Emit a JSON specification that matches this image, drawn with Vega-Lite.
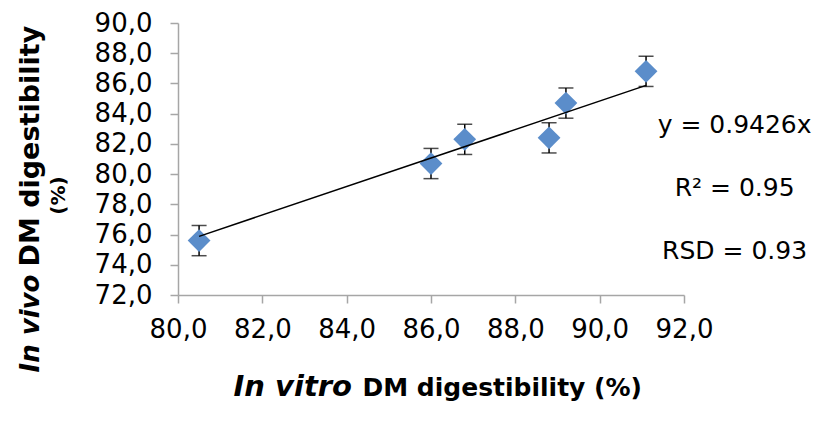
{
  "$schema": "https://vega.github.io/schema/vega-lite/v6.json",
  "width": 506,
  "height": 272,
  "autosize": "none",
  "padding": {"left": 178, "top": 23, "right": 134, "bottom": 126},
  "background": "white",
  "config": {
    "font": "DejaVu Sans",
    "view": {"stroke": null},
    "axis": {
      "grid": false,
      "domainColor": "#a6a6a6",
      "tickColor": "#a6a6a6",
      "domainWidth": 1.5,
      "tickWidth": 1.5,
      "tickSize": 8,
      "labelFlush": false,
      "labelFont": "DejaVu Sans",
      "labelFontSize": 26,
      "labelColor": "black",
      "titleFont": "DejaVu Sans",
      "titleColor": "black",
      "titleFontWeight": "bold"
    }
  },
  "datasets": {
    "pts": [
      {"invitro": 80.5, "invivo": 75.6, "err": 1.0},
      {"invitro": 86.0, "invivo": 80.7, "err": 1.0},
      {"invitro": 86.8, "invivo": 82.3, "err": 1.0},
      {"invitro": 88.8, "invivo": 82.4, "err": 1.0},
      {"invitro": 89.2, "invivo": 84.7, "err": 1.0},
      {"invitro": 91.1, "invivo": 86.8, "err": 1.0}
    ],
    "trend": [
      {"invitro": 80.5, "invivo": 75.88},
      {"invitro": 91.1, "invivo": 85.87}
    ],
    "notes": [
      {"label": "y = 0.9426x", "px": 93.2, "py": 83.25},
      {"label": "R² = 0.95", "px": 93.2, "py": 79.1},
      {"label": "RSD = 0.93", "px": 93.2, "py": 74.9}
    ]
  },
  "layer": [
    {
      "data": {"name": "pts"},
      "encoding": {
        "x": {
          "field": "invitro", "type": "quantitative",
          "scale": {"domain": [80, 92], "nice": false, "zero": false},
          "axis": {
            "orient": "bottom",
            "values": [80, 82, 84, 86, 88, 90, 92],
            "labelExpr": "replace(format(datum.value, '.1f'), '.', ',')",
            "labelPadding": 13,
            "title": "DM digestibility (%)",
            "titleFontSize": 25,
            "titleAlign": "left",
            "titleBaseline": "alphabetic",
            "titleX": 184,
            "titleY": 100
          }
        },
        "y": {
          "field": "invivo", "type": "quantitative",
          "scale": {"domain": [72, 90], "nice": false, "zero": false},
          "axis": {
            "orient": "left",
            "values": [72, 74, 76, 78, 80, 82, 84, 86, 88, 90],
            "labelExpr": "replace(format(datum.value, '.1f'), '.', ',')",
            "labelPadding": 18,
            "title": "DM digestibility",
            "titleFontSize": 27,
            "titleAngle": 270,
            "titleAlign": "left",
            "titleBaseline": "alphabetic",
            "titleX": -140,
            "titleY": 243
          }
        }
      },
      "layer": [
        {
          "mark": {"type": "errorbar", "ticks": {"size": 15, "color": "black", "strokeWidth": 1.5}, "color": "black", "thickness": 1.5},
          "encoding": {
            "yError": {"field": "err"}
          }
        },
        {
          "mark": {"type": "point", "shape": "diamond", "filled": true, "size": 520, "color": "#5b8dca", "opacity": 1}
        }
      ]
    },
    {
      "data": {"name": "notes"},
      "mark": {"type": "text", "fontSize": 25, "font": "DejaVu Sans", "color": "black", "align": "center", "baseline": "middle"},
      "encoding": {
        "x": {
          "field": "px", "type": "quantitative",
          "scale": {"domain": [80, 92], "nice": false, "zero": false},
          "axis": {
            "orient": "bottom", "domain": false, "ticks": false, "labels": false,
            "title": "In vitro",
            "titleFontSize": 29,
            "titleFontStyle": "italic",
            "titleAlign": "left",
            "titleBaseline": "alphabetic",
            "titleX": 55,
            "titleY": 100
          }
        },
        "y": {
          "field": "py", "type": "quantitative",
          "scale": {"domain": [72, 90], "nice": false, "zero": false},
          "axis": {
            "orient": "left", "domain": false, "ticks": false, "labels": false,
            "title": "In vivo",
            "titleFontSize": 26,
            "titleFontStyle": "italic",
            "titleAngle": 270,
            "titleAlign": "left",
            "titleBaseline": "alphabetic",
            "titleX": -140,
            "titleY": 349
          }
        },
        "text": {"field": "label"}
      }
    },
    {
      "data": {"name": "trend"},
      "mark": {"type": "line", "color": "black", "strokeWidth": 1.5},
      "encoding": {
        "x": {
          "field": "invitro", "type": "quantitative",
          "scale": {"domain": [80, 92], "nice": false, "zero": false},
          "axis": {"orient": "bottom", "domain": false, "ticks": false, "labels": false, "title": null}
        },
        "y": {
          "field": "invivo", "type": "quantitative",
          "scale": {"domain": [72, 90], "nice": false, "zero": false},
          "axis": {
            "orient": "left", "domain": false, "ticks": false, "labels": false,
            "title": "(%)",
            "titleFontSize": 20,
            "titleAngle": 270,
            "titleAlign": "center",
            "titleBaseline": "alphabetic",
            "titleX": -114,
            "titleY": 172
          }
        }
      }
    }
  ],
  "resolve": {"scale": {"x": "independent", "y": "independent"}}
}
